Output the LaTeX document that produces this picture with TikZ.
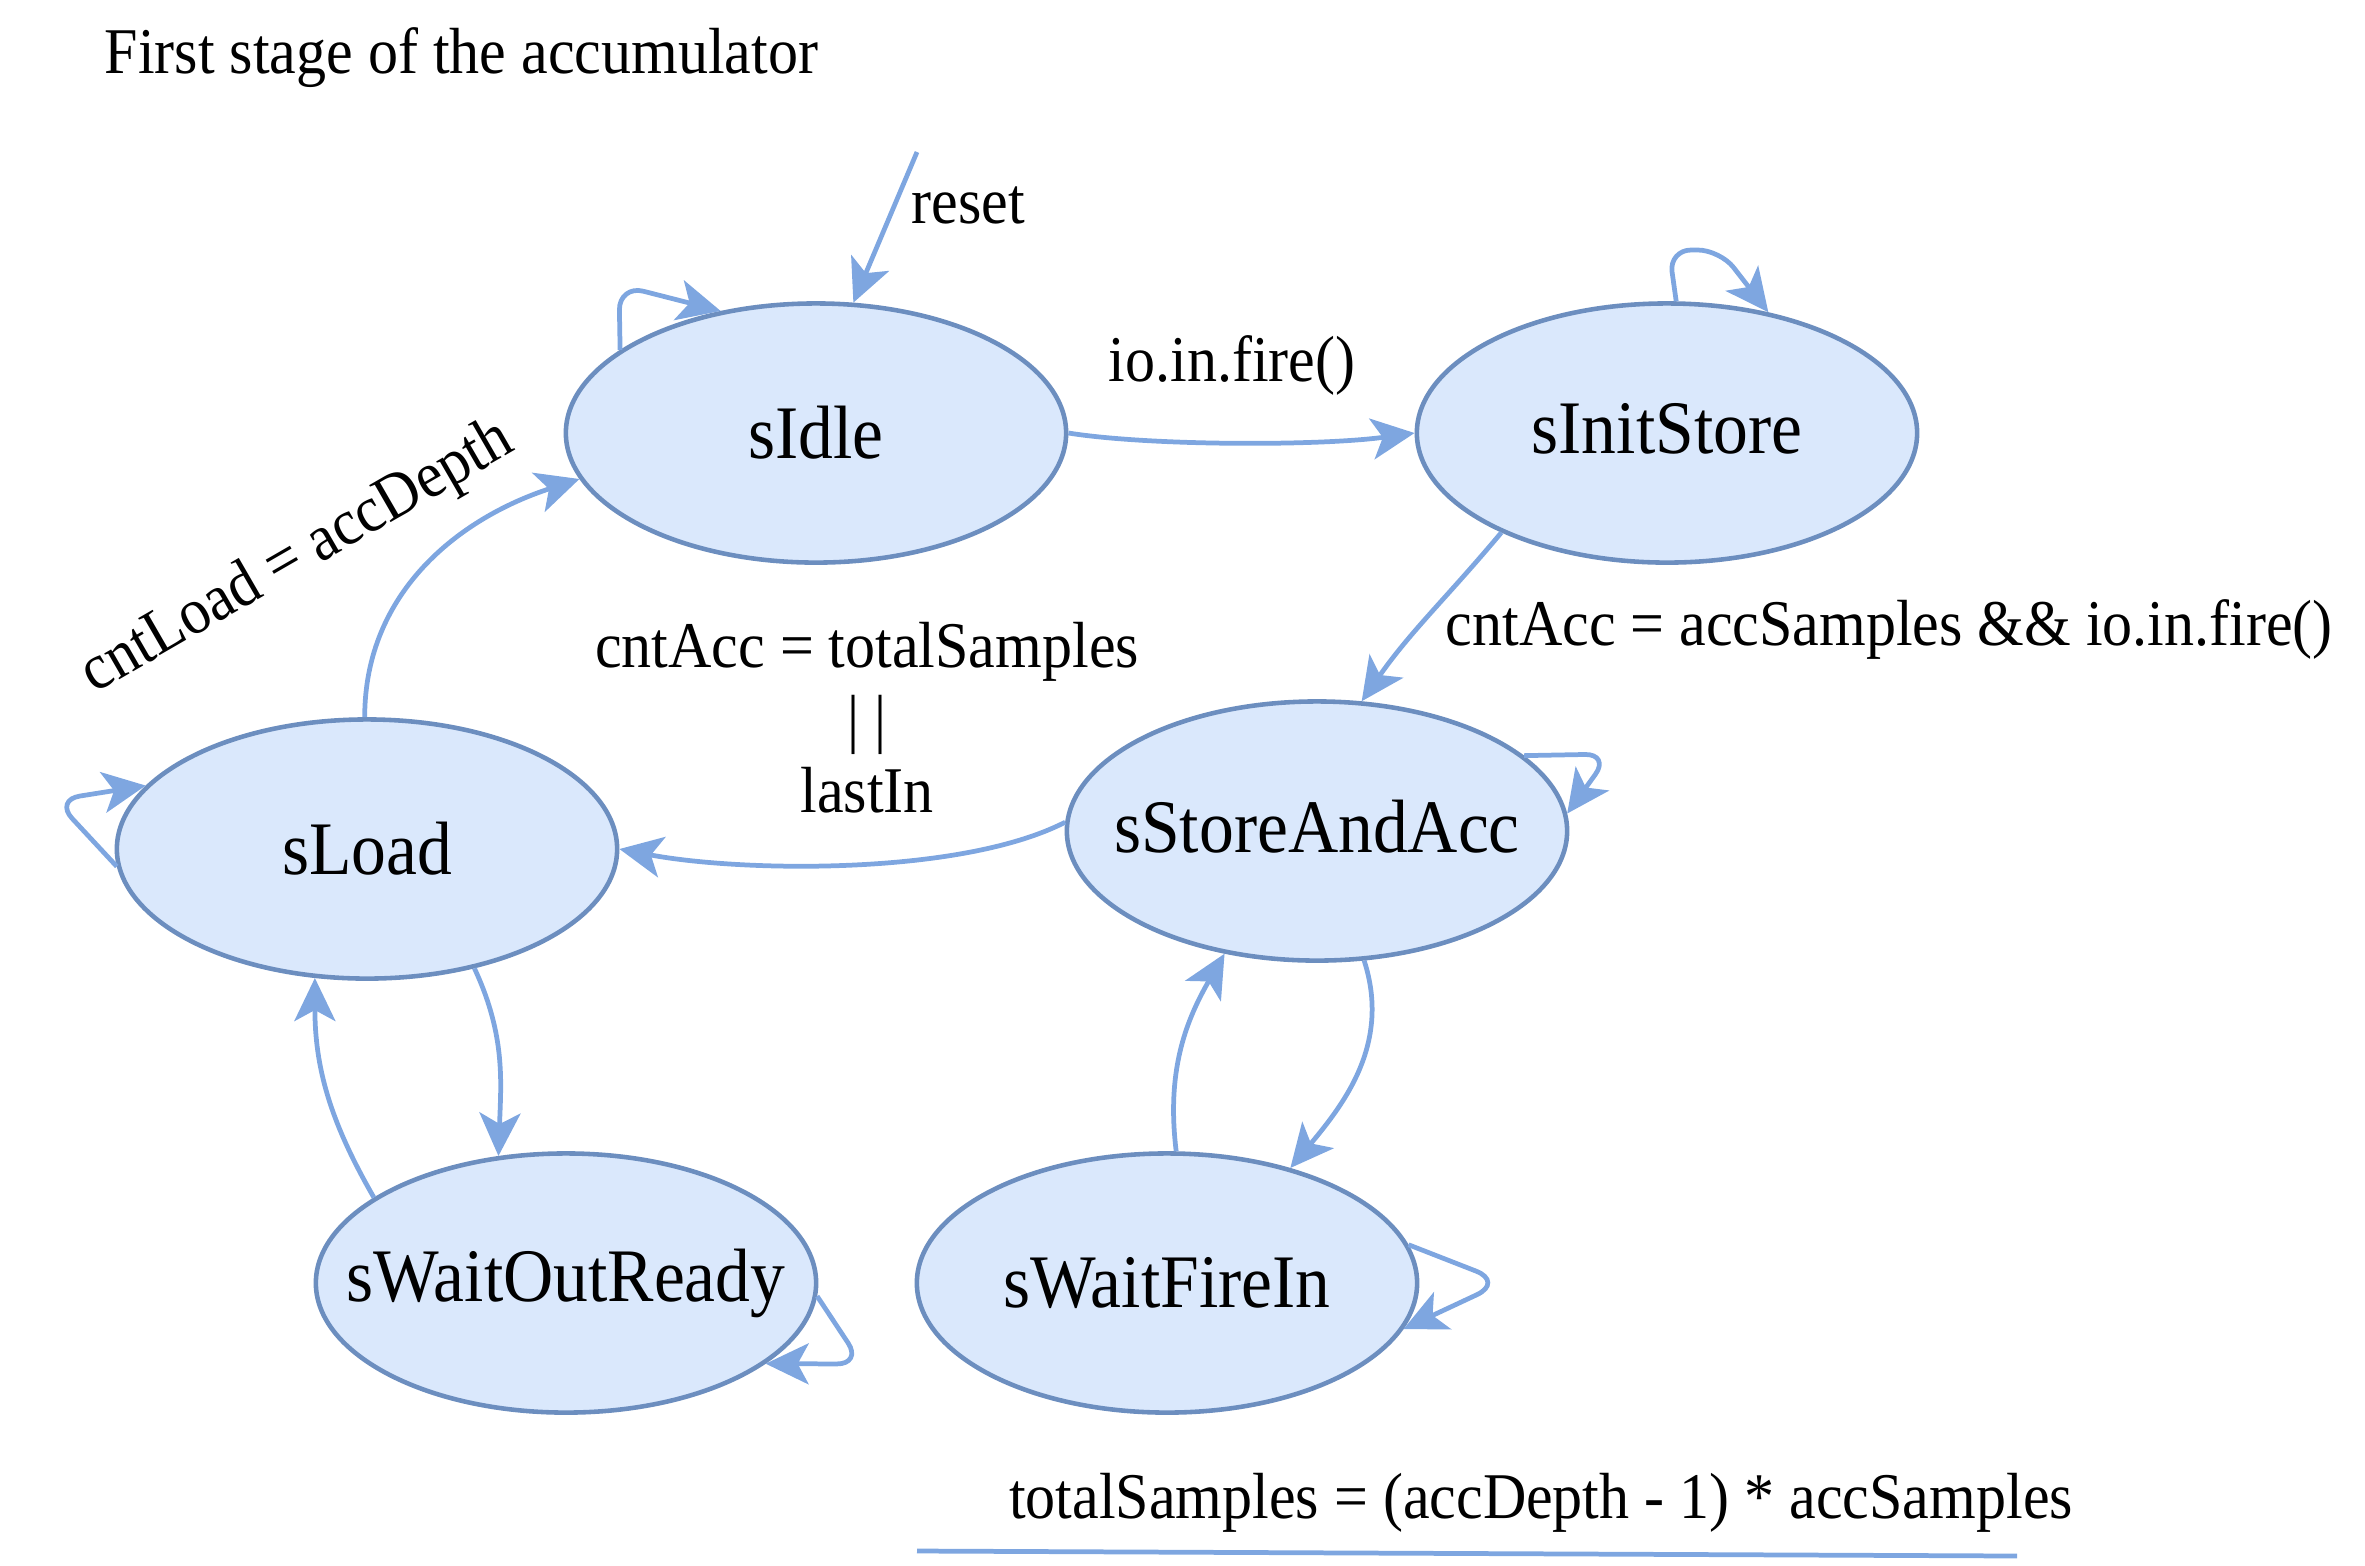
\documentclass[tikz,border=0pt]{standalone}
\usepackage{fontspec}
\setmainfont{Liberation Serif}[FakeStretch=0.92]
\usetikzlibrary{arrows.meta,shapes.geometric}
\definecolor{edgeblue}{HTML}{7EA6E0}
\definecolor{nodefill}{HTML}{DAE8FC}
\definecolor{nodeline}{HTML}{6C8EBF}
\begin{document}
\begin{tikzpicture}[x=0.01cm,y=-0.01cm,
  state/.style={ellipse, draw=nodeline, fill=nodefill, line width=1.3pt,
    minimum width=5cm, minimum height=2.59cm, inner sep=0pt,
    font=\fontsize{21.5}{24}\selectfont},
  edge/.style={draw=edgeblue, line width=1.35pt,
    -{Stealth[length=0.43cm,width=0.41cm,inset=0.11cm]}},
  lbl/.style={font=\fontsize{18.55}{20.6}\selectfont, inner sep=0pt}]
\useasboundingbox (0,0) rectangle (2365,1565);

\node[lbl, anchor=west] (title) at (104,58) {First stage of the accumulator};

\node[state] (sIdle) at (816,433) {\makebox[0pt]{sIdle}};
\node[state] (sInitStore) at (1667,433) {\makebox[0pt]{\raisebox{0.1cm}{sInitStore}}};
\node[state] (sStoreAndAcc) at (1317,831) {\makebox[0pt]{\raisebox{0.09cm}{sStoreAndAcc}}};
\node[state] (sLoad) at (367,849) {\makebox[0pt]{sLoad}};
\node[state] (sWaitOutReady) at (566,1283) {\makebox[0pt]{\raisebox{-0.03cm}{sWaitOutReady}}};
\node[state] (sWaitFireIn) at (1167,1283) {\makebox[0pt]{sWaitFireIn}};

% reset
\coordinate (rs) at (917,152);
\draw[edge] (rs) -- (sIdle.74);
\node[lbl, anchor=west] (lreset) at (911,205) {reset};

% self loops
\draw[edge] (sIdle.157) [rounded corners=0.25cm] -- (619,285) -- (sIdle.128);
\draw[edge] (sInitStore.86) [rounded corners=0.22cm] -- (1669,250) -- (1720,250) -- (sInitStore.50);
\draw[edge] (sStoreAndAcc.20) [rounded corners=0.25cm] -- (1610,754) -- (sStoreAndAcc.4);
\draw[edge] (sLoad.184) [rounded corners=0.25cm] -- (55,800) -- (sLoad.164);
\draw[edge] (sWaitOutReady.357) [rounded corners=0.25cm] -- (862,1364) -- (sWaitOutReady.338);
\draw[edge] (sWaitFireIn.9) [rounded corners=0.3cm] -- (1504,1282) -- (sWaitFireIn.349);

% transitions
\draw[edge] (sIdle.east) .. controls (1150,446) and (1320,446) .. (sInitStore.west);
\node[lbl] (lfire) at (1232,365) {io.in.fire()};

\draw[edge] (sInitStore.211) to[out=-130, in=55] (sStoreAndAcc.71);
\node[lbl, anchor=west] (lacc) at (1445,629) {cntAcc = accSamples \&\& io.in.fire()};

\draw[edge] (sStoreAndAcc.178) .. controls (960,876) and (740,872) .. (sLoad.east);
\node[lbl, align=center] (ltot) at (867,718) {cntAcc = totalSamples\\| |\\lastIn};

\draw[edge] (sLoad.91) to[out=90, in=198] (sIdle.191);
\node[lbl, rotate=30] (lload) at (298,558) {cntLoad = accDepth};

\draw[edge] (sLoad.312) to[out=-65, in=88] (sWaitOutReady.118);
\draw[edge] (sWaitOutReady.156) to[out=120, in=-90] (sLoad.248);
\draw[edge] (sStoreAndAcc.290) to[out=-72, in=50] (sWaitFireIn.43);
\draw[edge] (sWaitFireIn.86) to[out=97, in=240] (sStoreAndAcc.233);

% note
\node[lbl] (note) at (1541,1503) {totalSamples = (accDepth - 1) * accSamples};
\coordinate (ul1) at (917,1551);
\coordinate (ul2) at (2017,1556);
\draw[draw=edgeblue, line width=1.35pt] (ul1) -- (ul2);
\end{tikzpicture}
\end{document}
